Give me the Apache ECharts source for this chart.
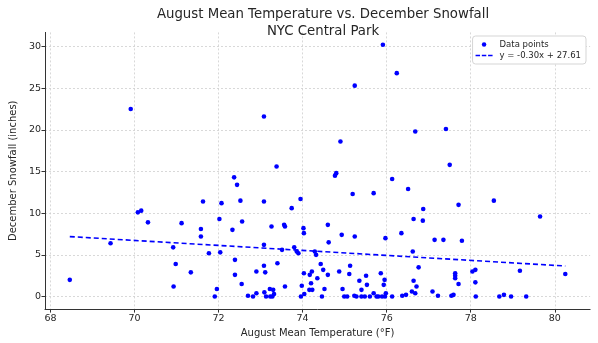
<!DOCTYPE html>
<html>
<head>
<meta charset="utf-8">
<script src="https://cdn.jsdelivr.net/npm/echarts@6/dist/echarts.min.js"></script>
<style>html,body{margin:0;padding:0;background:#fff}#c{width:598px;height:343px}</style>
</head>
<body>
<div id="c"></div>
<script>
// August mean temperature (°F)
var augustTemp = [68.46,69.43,69.91,70.08,70.16,70.32,70.92,70.98,70.93,71.12,71.34,71.58,71.58,71.63,71.77,71.91,71.96,72.02,72.04,72.07,72.33,72.37,72.39,72.39,72.44,72.52,72.55,72.56,72.70,72.82,72.90,72.90,73.08,73.08,73.08,73.08,73.09,73.11,73.13,73.22,73.23,73.26,73.28,73.30,73.32,73.38,73.40,73.51,73.56,73.58,73.58,73.74,73.80,73.86,73.90,73.95,73.96,73.98,74.02,74.03,74.03,74.04,74.17,74.20,74.22,74.16,74.23,74.29,74.32,74.35,74.43,74.46,74.49,74.52,74.60,74.60,74.62,74.77,74.80,74.87,74.90,74.93,74.95,74.99,75.06,75.11,75.13,75.19,75.23,75.24,75.24,75.28,75.35,75.40,75.40,75.48,75.51,75.53,75.60,75.69,75.69,75.76,75.80,75.86,75.89,75.91,75.93,75.95,75.96,75.97,75.98,76.13,76.13,76.24,76.35,76.37,76.46,76.51,76.60,76.62,76.64,76.64,76.68,76.68,76.71,76.76,76.86,76.87,77.09,77.14,77.22,77.35,77.41,77.50,77.54,77.59,77.63,77.63,77.63,77.71,77.71,77.79,78.04,78.11,78.11,78.12,78.55,78.68,78.79,78.96,79.17,79.32,79.65,80.25];
// December snowfall (inches)
var decSnow = [2.0,6.4,22.5,10.1,10.3,8.9,5.9,3.9,1.2,8.8,2.9,8.1,7.2,11.4,5.2,0,0.9,9.3,5.3,11.2,8.0,14.3,4.4,2.6,13.4,11.5,1.5,9.0,0.1,0,3.0,0.4,21.6,11.4,6.2,3.7,0.5,2.9,0,0.9,0,8.4,0,0.8,0.3,15.6,4.0,5.6,8.6,8.4,1.2,10.6,5.9,5.4,5.2,11.7,0,1.3,8.2,7.6,2.8,0.3,2.6,1.6,3.0,0.8,0.8,5.4,5.0,2.2,3.9,0,3.2,0.9,8.6,2.6,6.5,14.5,14.8,3.0,18.6,7.4,0.9,0,0,2.7,3.7,12.3,0.1,7.2,25.3,0,1.9,0.8,0,0,2.5,1.4,0,12.4,0.4,0,0,2.8,0,30.2,1.4,2.0,0,7.0,0.4,14.1,0,26.8,7.6,0.1,0.2,12.9,0.6,5.4,9.3,1.9,19.8,0.4,1.2,3.5,9.1,10.5,0.6,6.8,0.1,6.8,20.1,15.8,0.1,0.2,2.8,2.5,2.2,11.0,1.5,6.7,3.0,3.2,1.7,0,11.5,0,0.2,0,3.1,0,9.6,2.7];
// Trend line endpoints
var trendX = [68.46, 80.25];
var trendY = [7.19, 3.66];
// Tick labels
var xTicks = [68,70,72,74,76,78,80];
var yTicks = [0,5,10,15,20,25,30];
var seriesNames = ['Data points', 'y = -0.30x + 27.61'];

var pts = augustTemp.map(function(t,i){return [t, decSnow[i]];});
var trend = trendX.map(function(t,i){return [t, trendY[i]];});

var font = 'DejaVu Sans';
var dashIcon = 'path://M0,0h5v1.6h-5z M7,0h5v1.6h-5z M14,0h5v1.6h-5z';
var chart = echarts.init(document.getElementById('c'), null, {renderer:'canvas'});
chart.setOption({
  animation:false,
  backgroundColor:'#fff',
  textStyle:{fontFamily:font},
  title:{
    text:'August Mean Temperature vs. December Snowfall\nNYC Central Park',
    left:318, top:1, textAlign:'center',
    textStyle:{fontFamily:font, fontSize:13.3, fontWeight:'normal', color:'#262626', lineHeight:17}
  },
  legend:{
    orient:'vertical', right:12, top:36,
    backgroundColor:'#fff', borderColor:'#d5d5d5', borderWidth:1, borderRadius:3,
    padding:[4,5,4,3], itemGap:2, itemWidth:17, itemHeight:4.5,
    textStyle:{fontFamily:font, fontSize:8.5, color:'#262626', padding:[0,0,0,2]},
    data:[{name:seriesNames[0], icon:'circle', itemStyle:{color:'#0000ff'}},
          {name:seriesNames[1], icon:dashIcon, itemStyle:{color:'#0000ff'}}]
  },
  grid:{left:42.5, right:7.9, top:32.4, bottom:28.4, containLabel:false},
  xAxis:{
    type:'value', min:67.87, max:80.84,
    name:'August Mean Temperature (°F)', nameLocation:'middle', nameGap:16,
    nameTextStyle:{fontFamily:font, fontSize:10, color:'#262626'},
    axisLine:{show:true, onZero:false, lineStyle:{color:'#333', width:1}},
    axisTick:{show:true, length:3.5, customValues:xTicks, lineStyle:{color:'#333'}},
    axisLabel:{customValues:xTicks, fontFamily:font, fontSize:9.5, color:'#262626', margin:4},
    splitLine:{show:true, lineStyle:{color:'#cfcfcf', type:[2,2], width:0.8}}
  },
  yAxis:{
    type:'value', min:-1.51, max:31.69,
    name:'December Snowfall (inches)', nameLocation:'middle', nameGap:19, nameRotate:90,
    nameTextStyle:{fontFamily:font, fontSize:10, color:'#262626'},
    axisLine:{show:true, onZero:false, lineStyle:{color:'#333', width:1}},
    axisTick:{show:true, length:3.5, customValues:yTicks, lineStyle:{color:'#333'}},
    axisLabel:{customValues:yTicks, fontFamily:font, fontSize:9.5, color:'#262626', margin:4},
    splitLine:{show:true, lineStyle:{color:'#cfcfcf', type:[2,2], width:0.8}}
  },
  series:[
    {name:seriesNames[0], type:'scatter', data:pts, symbolSize:4.6,
     itemStyle:{color:'#0000ff', opacity:1}, z:3},
    {name:seriesNames[1], type:'line', data:trend, symbol:'none', showSymbol:false,
     lineStyle:{color:'#0000ff', width:1.6, type:[5,3]}, itemStyle:{color:'#0000ff'}, z:4}
  ]
});
</script>
</body>
</html>
